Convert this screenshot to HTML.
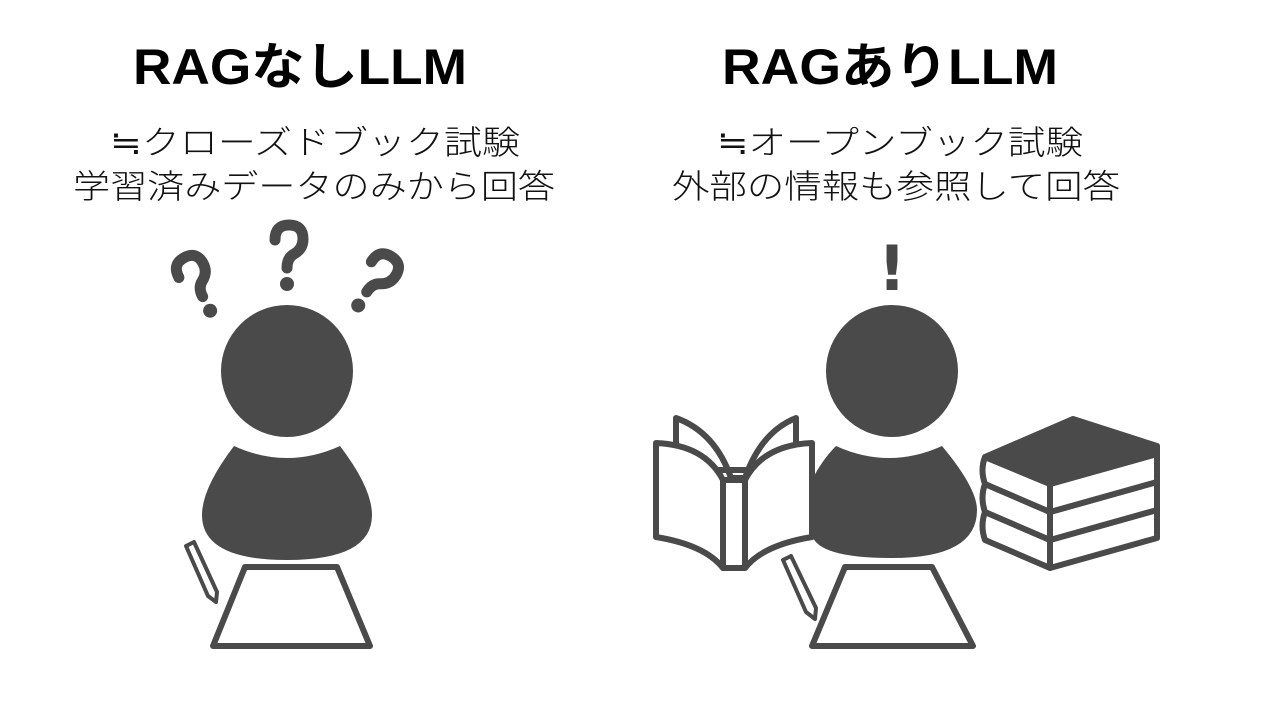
<!DOCTYPE html>
<html><head><meta charset="utf-8"><style>
html,body{margin:0;padding:0;background:#fff;width:1280px;height:720px;overflow:hidden}
svg{display:block}
.t{font-family:"Liberation Sans","Noto Sans CJK JP",sans-serif;font-weight:bold;font-size:50px;fill:#000}
.s{font-family:"Liberation Sans","Noto Sans CJK JP",sans-serif;font-weight:300;font-size:33px;fill:#111}
.q{font-family:"DejaVu Sans",sans-serif;font-weight:bold;font-size:74px;fill:#474747}
</style></head><body>
<svg width="1280" height="720" viewBox="0 0 1280 720">
<defs>
<g id="qm">
<path d="M-14,-8 Q-14,-23 0,-23 Q14,-23 14,-9 Q14,1 5,6 Q-2,10 -2,20" fill="none" stroke="#4a4a4a" stroke-width="11" stroke-linecap="round" stroke-linejoin="round"/>
<circle cx="-2" cy="36" r="7" fill="#4a4a4a"/>
</g>
</defs>
<text class="t" x="133" y="84" textLength="334" lengthAdjust="spacingAndGlyphs">RAGなしLLM</text>
<text class="t" x="722" y="84" textLength="336" lengthAdjust="spacingAndGlyphs">RAGありLLM</text>
<text class="s" x="110" y="154" textLength="410" lengthAdjust="spacingAndGlyphs">≒クローズドブック試験</text>
<text class="s" x="73" y="198" textLength="482" lengthAdjust="spacingAndGlyphs">学習済みデータのみから回答</text>
<text class="s" x="717" y="154" textLength="366" lengthAdjust="spacingAndGlyphs">≒オープンブック試験</text>
<text class="s" x="672" y="198" textLength="448" lengthAdjust="spacingAndGlyphs">外部の情報も参照して回答</text>

<g fill="#4a4a4a" stroke="none">
<circle cx="287" cy="371" r="66"/>
<path d="M234,446 Q287,470 340,446 Q372,488 372,515 Q372,560 287,560 Q202,560 202,515 Q202,488 234,446 Z"/>
<circle cx="892" cy="371" r="66"/>
<path d="M836,446 Q889,470 942,446 Q977,488 977,510 Q977,558 892,558 Q818,558 812,535 L812,480 Q822,460 836,446 Z"/>
</g>
<use href="#qm" transform="translate(289,248)"/>
<use href="#qm" transform="translate(195,278) rotate(-28)"/>
<use href="#qm" transform="translate(379,276) rotate(32)"/>
<text class="q" x="892" y="290" text-anchor="middle" style="font-size:62px">!</text>

<g fill="#fff" stroke="#4a4a4a" stroke-width="6" stroke-linejoin="round">
<path d="M245,567 L337,567 L370,646 L213,646 Z"/>
<path d="M845,567 L932,567 L973,646 L812,646 Z"/>
<path d="M186,546 L194,542 L217,592 L216,602 L208,596 Z" stroke-width="4"/>
<path d="M783,560 L791,556 L816,608 L815,619 L806,612 Z" stroke-width="4"/>
<path d="M676,418 Q715,432 731,478 L745,478 Q761,432 796,418 L796,470 L676,470 Z"/>
<path d="M656,443 Q705,445 723,480 L723,568 Q705,545 656,537 Z"/>
<path d="M812,443 Q763,445 745,480 L745,568 Q763,545 812,537 Z"/>
<rect x="723" y="480" width="22" height="88"/>
<path d="M985,512 L1050,540 L1050,568 L985,540 Q980,526 985,512 Z"/>
<path d="M1050,540 L1157,510 L1157,538 L1050,568 Z"/>
<path d="M985,484 L1050,512 L1050,540 L985,512 Q980,498 985,484 Z"/>
<path d="M1050,512 L1157,482 L1157,510 L1050,540 Z"/>
<path d="M985,457 L1050,484 L1050,512 L985,484 Q980,470 985,457 Z"/>
<path d="M1050,484 L1157,454 L1157,482 L1050,512 Z"/>
<path d="M985,457 L1073,419 L1157,446 L1157,454 L1050,484 Z" fill="#4a4a4a"/>
</g>
</svg>
</body></html>
